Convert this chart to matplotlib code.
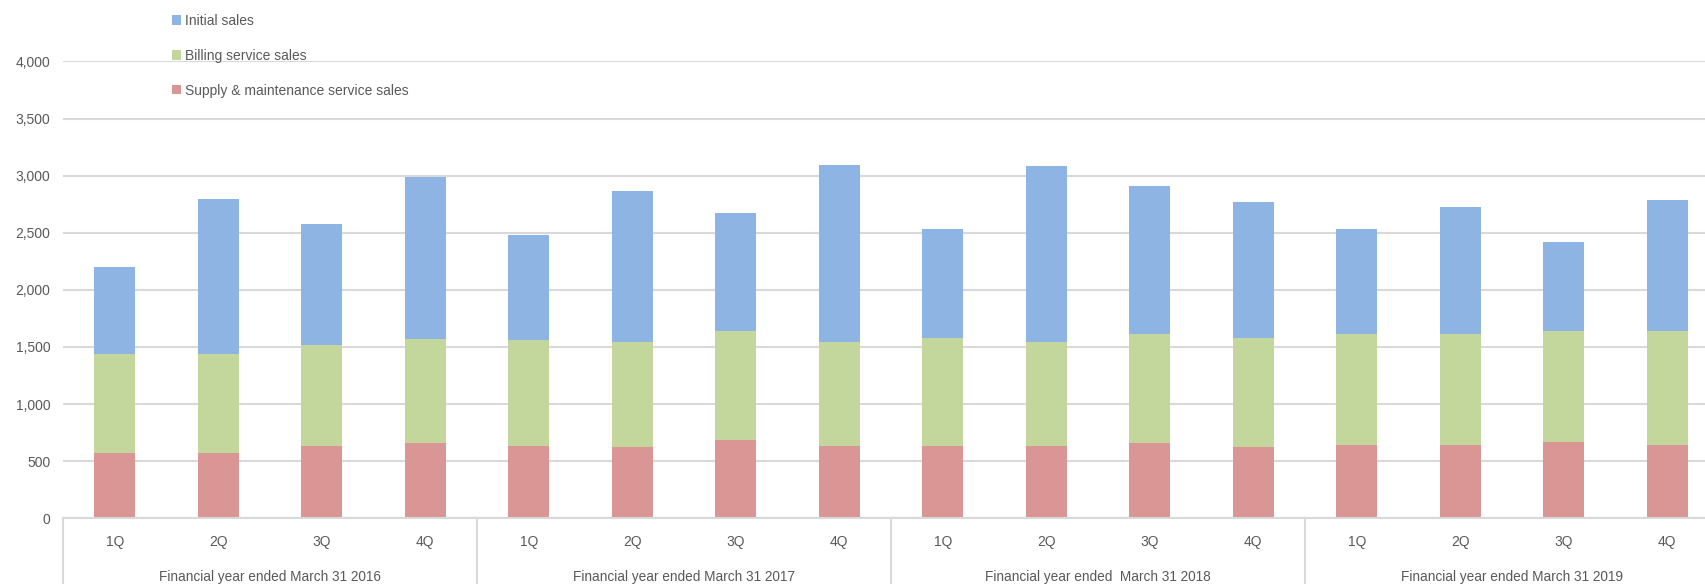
# Quarterly sales breakdown, stacked bars by financial year
import numpy as np
import matplotlib.pyplot as plt

plt.rcParams['font.family'] = ['Liberation Sans', 'DejaVu Sans']

quarters = ['1Q', '2Q', '3Q', '4Q'] * 4
years = ['Financial year ended March 31 2016',
         'Financial year ended March 31 2017',
         'Financial year ended  March 31 2018',
         'Financial year ended March 31 2019']

# valores (milhões)
supply_sales = [570, 570, 635, 655, 635, 620, 685, 635, 635, 635, 655, 620, 645, 645, 670, 645]
billing_sales = [868, 868, 881, 913, 922, 925, 953, 909, 947, 909, 956, 962, 966, 966, 967, 993]
initial_sales = [763, 1362, 1059, 1421, 925, 1325, 1033, 1547, 955, 1539, 1296, 1191, 926, 1112, 779, 1150]

cor_texto = '#595959'
cor_grade = '#D9D9D9'

fig = plt.figure(figsize=(17.06, 5.84), dpi=100)
ax = fig.add_axes([63 / 1706, (584 - 518.3) / 584, 1656 / 1706, 456.8 / 584])

x = np.arange(len(quarters)) + 0.5
base2 = np.array(supply_sales)
base3 = base2 + np.array(billing_sales)
b1 = ax.bar(x, supply_sales, width=0.4, color='#D99694', zorder=2)
b2 = ax.bar(x, billing_sales, bottom=base2, width=0.4, color='#C3D69B', zorder=2)
b3 = ax.bar(x, initial_sales, bottom=base3, width=0.4, color='#8EB4E3', zorder=2)

ax.set_xlim(0, 16)
ax.set_ylim(0, 4000)
ax.set_yticks(range(0, 4001, 500))
ax.set_yticklabels([f'{v:,}' for v in range(0, 4001, 500)])
ax.yaxis.grid(True, color=cor_grade, linewidth=1.5)
ax.set_axisbelow(True)
ax.tick_params(axis='y', length=0, pad=9, labelcolor=cor_texto, labelsize=10)
ax.set_xticks([])
for s in ['top', 'right', 'left']:
    ax.spines[s].set_visible(False)
ax.spines['bottom'].set_color(cor_grade)
ax.spines['bottom'].set_linewidth(1.5)

# rótulos de duas linhas no eixo x
for i, q in enumerate(quarters):
    ax.text(x[i], -0.0512, q, transform=ax.get_xaxis_transform(), ha='center', va='center',
            color=cor_texto, fontsize=10)
for g, nome in enumerate(years):
    ax.text(g * 4 + 2, -0.128, nome, transform=ax.get_xaxis_transform(), ha='center', va='center',
            color=cor_texto, fontsize=9.8)
for sep in [0, 4, 8, 12, 16]:
    ax.plot([sep, sep], [0, -0.15], transform=ax.get_xaxis_transform(), color=cor_grade,
            linewidth=1.5, clip_on=False)

fig.legend([b3, b2, b1], ['Initial sales', 'Billing service sales', 'Supply & maintenance service sales'],
           loc='upper left', bbox_to_anchor=(165 / 1706, 1 - 7 / 584), frameon=False,
           handlelength=0.65, handleheight=0.65, handletextpad=0.3, labelspacing=1.5,
           borderpad=0, labelcolor=cor_texto, fontsize=10)

fig.savefig('out.png')
